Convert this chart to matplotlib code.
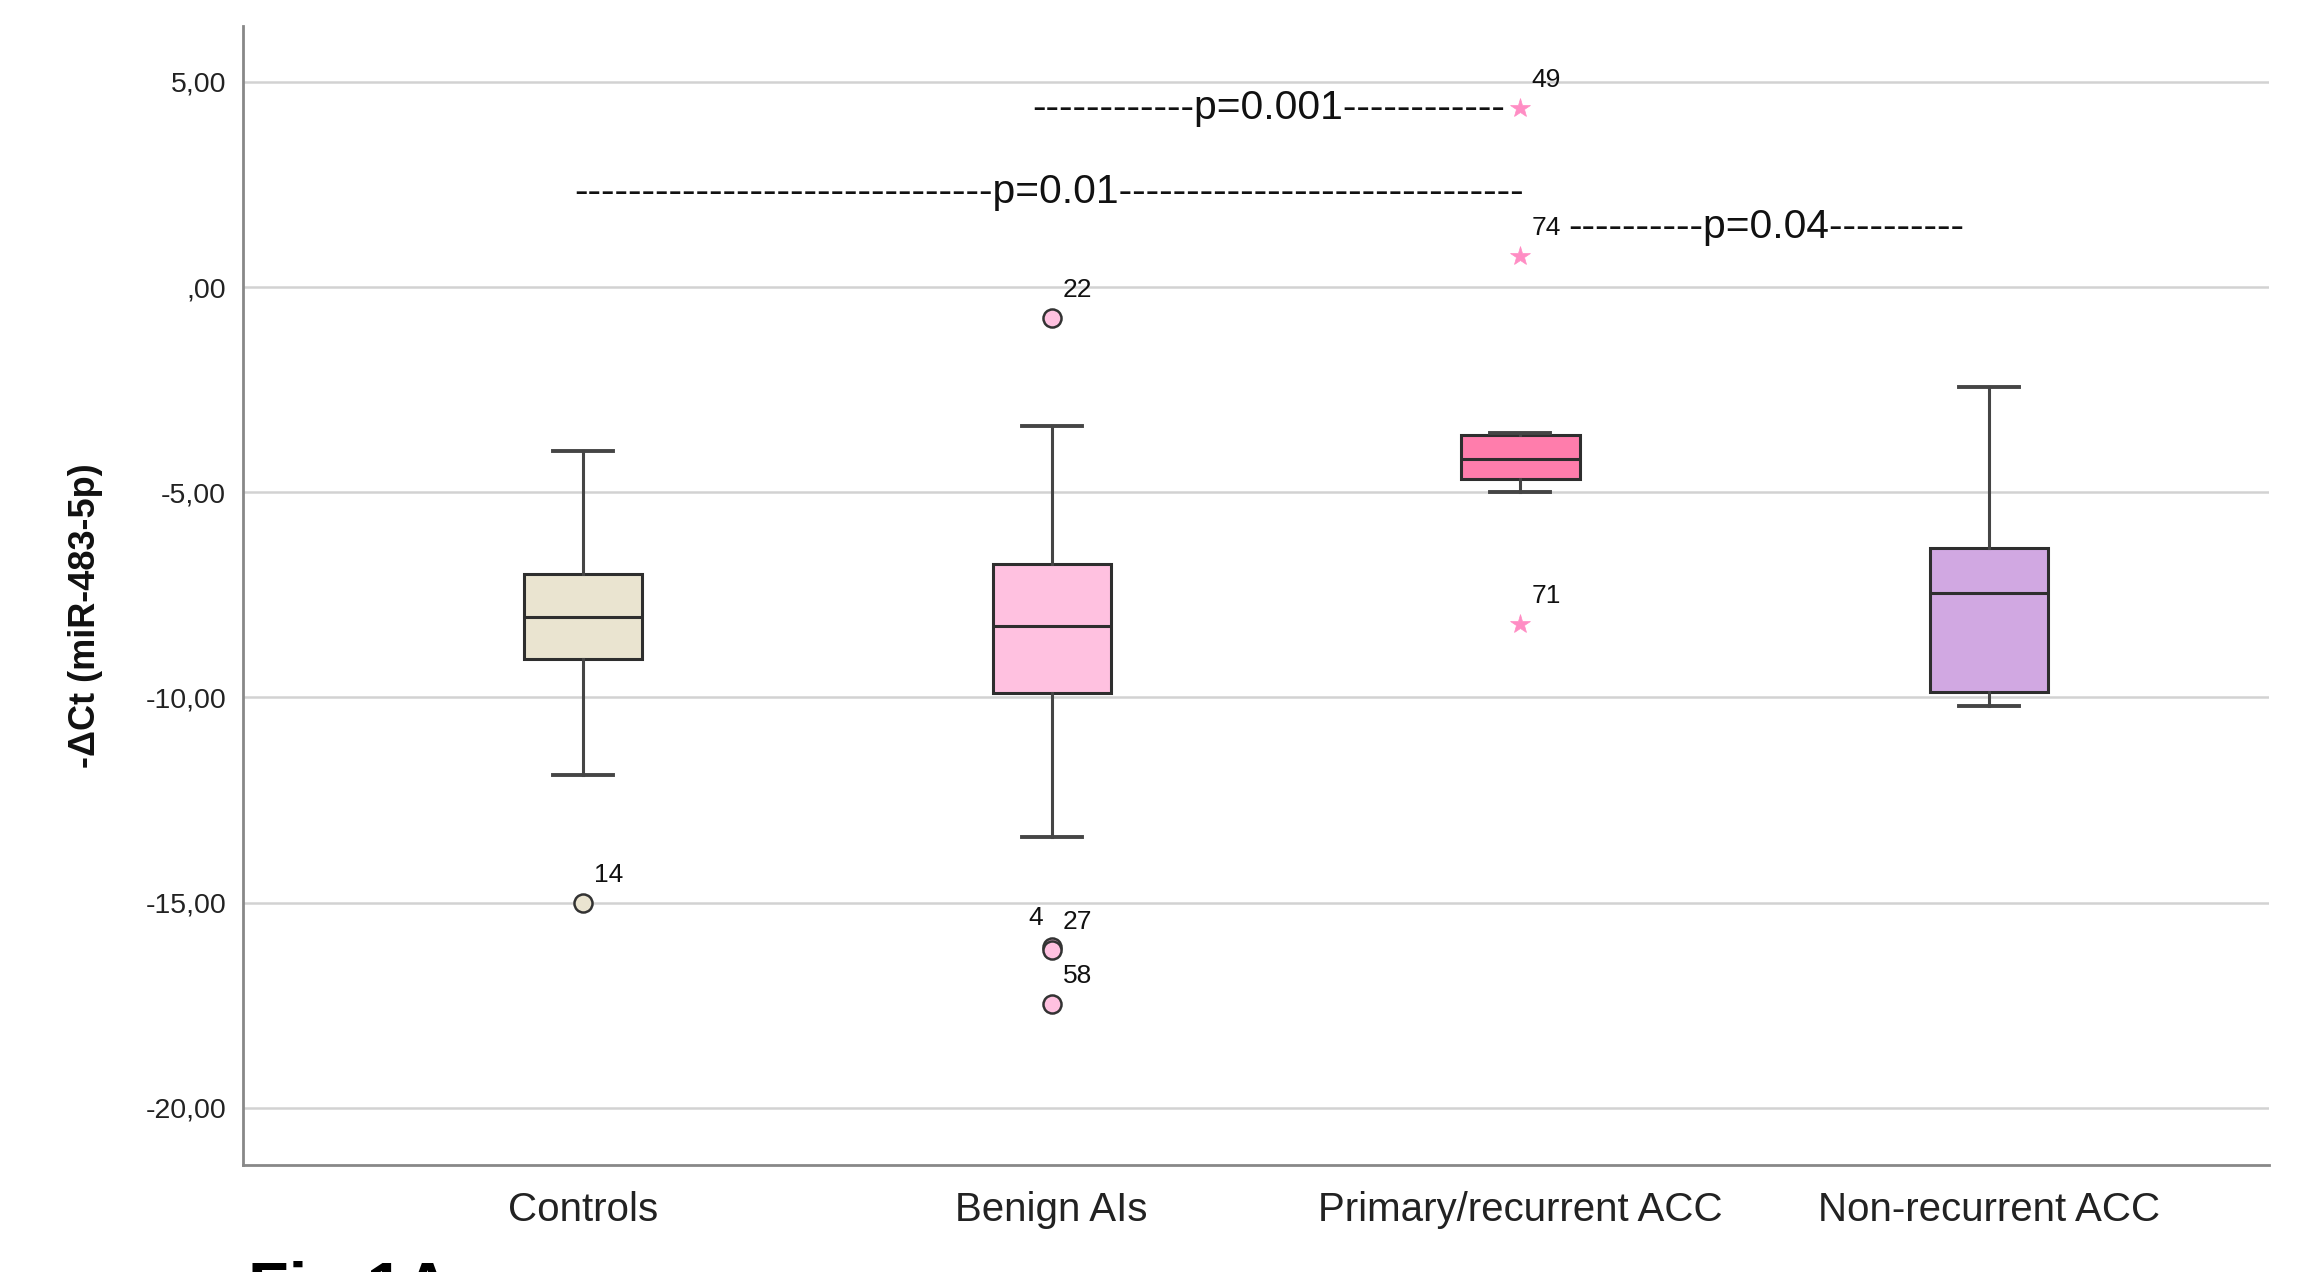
import matplotlib
matplotlib.use('Agg')
import matplotlib.pyplot as plt

plt.rcParams['font.family'] = ['Liberation Sans', 'DejaVu Sans']

# ---------------- data ----------------
categories = ['Controls', 'Benign AIs', 'Primary/recurrent ACC', 'Non-recurrent ACC']
whisker_low = [-11.9, -13.4, -5.0, -10.2]
q1 = [-9.07, -9.9, -4.68, -9.86]
medians = [-8.04, -8.25, -4.18, -7.46]
q3 = [-7.0, -6.75, -3.6, -6.36]
whisker_high = [-4.0, -3.39, -3.55, -2.43]
box_colors = ['#EAE4D0', '#FFC1E0', '#FF7DAC', '#D1A8E2']

outlier_group = [0, 1, 1, 1, 1, 2, 2, 2]
outlier_value = [-15.0, -0.75, -16.08, -16.15, -17.46, 4.36, 0.75, -8.21]
outlier_label = ['14', '22', '4', '27', '58', '49', '74', '71']
outlier_kind = ['o', 'o', 'o', 'o', 'o', '*', '*', '*']

yticks = [5, 0, -5, -10, -15, -20]
ytick_labels = ['5,00', ',00', '-5,00', '-10,00', '-15,00', '-20,00']

comp_text = ['p=0.001', 'p=0.01', 'p=0.04']
comp_start = [1.958, 0.981, 3.102]
comp_y = [4.36, 2.32, 1.46]
comp_left = [12, 31, 10]
comp_right = [12, 30, 10]

# ---------------- figure ----------------
fig = plt.figure(figsize=(22.98, 12.72), dpi=100)
ax = fig.add_axes([0.1057, 0.0841, 0.9874 - 0.1057, 0.9796 - 0.0841])

positions = [1, 2, 3, 4]
stats = []
for i in range(len(categories)):
    stats.append(dict(med=medians[i], q1=q1[i], q3=q3[i],
                      whislo=whisker_low[i], whishi=whisker_high[i], fliers=[]))

bp = ax.bxp(stats, positions=positions, widths=0.252, capwidths=0.128,
            patch_artist=True, showfliers=False,
            boxprops=dict(edgecolor='#2e2e2e', linewidth=2.2),
            medianprops=dict(color='#2e2e2e', linewidth=2.2),
            whiskerprops=dict(color='#454545', linewidth=2.2),
            capprops=dict(color='#454545', linewidth=2.8),
            manage_ticks=False, zorder=3)
for patch, c in zip(bp['boxes'], box_colors):
    patch.set_facecolor(c)

# outliers
for g, v, lab, kind in zip(outlier_group, outlier_value, outlier_label, outlier_kind):
    x = positions[g]
    if kind == 'o':
        ax.plot([x], [v], marker='o', markersize=13, markerfacecolor=box_colors[g],
                markeredgecolor='#333333', markeredgewidth=1.8, linestyle='none', zorder=4)
    else:
        ax.plot([x], [v], marker='*', markersize=15, markerfacecolor='#FF8DC4',
                markeredgecolor='#FF8DC4', markeredgewidth=0.5, linestyle='none', zorder=4)
    if lab == '4':
        ax.annotate(lab, (x, v), xytext=(-6, 21), textcoords='offset points',
                    ha='right', va='center', fontsize=19, color='#111111')
    else:
        ax.annotate(lab, (x, v), xytext=(8, 20), textcoords='offset points',
                    ha='left', va='center', fontsize=19, color='#111111')

# comparison annotations
for t, xs, yv, nl, nr in zip(comp_text, comp_start, comp_y, comp_left, comp_right):
    ax.text(xs, yv, '-' * nl + t + '-' * nr, ha='left', va='center',
            fontsize=29.3, color='#111111', zorder=5)

# axes styling
ax.set_xlim(0.2746, 4.597)
ax.set_ylim(-21.39, 6.36)
ax.set_yticks(yticks)
ax.set_yticklabels(ytick_labels)
ax.set_xticks(positions)
ax.set_xticklabels(categories)
ax.yaxis.grid(True, color='#D2D2D2', linewidth=1.8)
ax.set_axisbelow(True)
ax.tick_params(axis='y', length=0, pad=12, labelsize=20.5, labelcolor='#222222')
ax.tick_params(axis='x', length=0, pad=19, labelsize=29, labelcolor='#222222')
for s in ['top', 'right']:
    ax.spines[s].set_visible(False)
for s in ['left', 'bottom']:
    ax.spines[s].set_color('#888888')
    ax.spines[s].set_linewidth(2.0)

ax.set_ylabel('-ΔCt (miR-483-5p)', fontsize=26, fontweight='bold', color='#111111')
ax.yaxis.set_label_coords(-0.069, 0.482)

fig.text(248 / 2298, 1 - 1261 / 1272, 'Fig 1A', ha='left', va='top',
         fontsize=48, fontweight='bold', color='#000000')

fig.savefig('out.png', dpi=100, facecolor='white')
